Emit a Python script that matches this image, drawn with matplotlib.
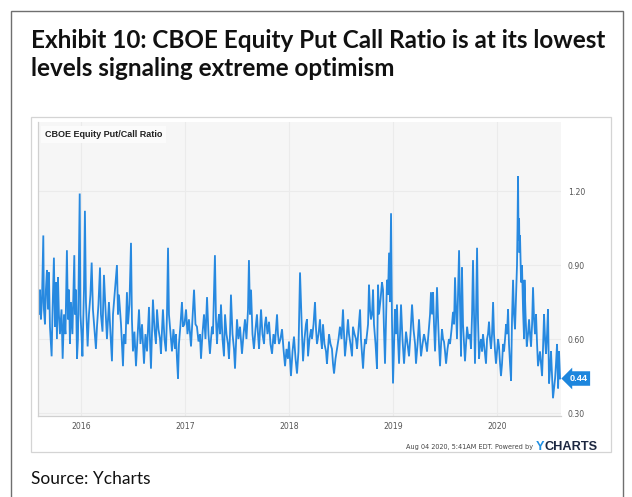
import matplotlib
matplotlib.use("Agg")
import matplotlib.pyplot as plt
import matplotlib.patches as mpatches
import matplotlib.transforms as mtransforms
import numpy as np

# CBOE equity put/call ratio, dates as decimal years
dates_2015 = [2015.593, 2015.601, 2015.606, 2015.615, 2015.625, 2015.638, 2015.644, 2015.654,
              2015.663, 2015.673, 2015.683, 2015.692, 2015.702, 2015.718, 2015.726, 2015.740,
              2015.750, 2015.760, 2015.769, 2015.779, 2015.788, 2015.798, 2015.813, 2015.824,
              2015.837, 2015.851, 2015.865, 2015.875, 2015.885, 2015.894, 2015.904, 2015.918,
              2015.936, 2015.942, 2015.952, 2015.962, 2015.971, 2015.988, 2015.995]
ratio_2015 = [0.78, 0.70, 0.80, 0.68, 0.75, 1.02, 0.72, 0.66,
              0.80, 0.88, 0.72, 0.87, 0.65, 0.53, 0.70, 0.93,
              0.65, 0.83, 0.60, 0.85, 0.70, 0.62, 0.72, 0.52,
              0.70, 0.62, 0.96, 0.68, 0.80, 0.58, 0.75, 0.62,
              0.94, 0.70, 0.80, 0.52, 0.60, 1.19, 0.70]

dates_2016 = [2016.005, 2016.014, 2016.029, 2016.038, 2016.048, 2016.064, 2016.077, 2016.091,
              2016.103, 2016.115, 2016.130, 2016.144, 2016.154, 2016.168, 2016.183, 2016.192,
              2016.207, 2016.221, 2016.236, 2016.250, 2016.260, 2016.269, 2016.284, 2016.298,
              2016.308, 2016.327, 2016.346, 2016.356, 2016.365, 2016.375, 2016.385, 2016.394,
              2016.404, 2016.413, 2016.428, 2016.442, 2016.452, 2016.466, 2016.481, 2016.490,
              2016.500, 2016.514, 2016.529, 2016.543, 2016.558, 2016.572, 2016.587, 2016.606,
              2016.620, 2016.635, 2016.654, 2016.663, 2016.673, 2016.683, 2016.692, 2016.707,
              2016.721, 2016.731, 2016.745, 2016.760, 2016.769, 2016.779, 2016.788, 2016.803,
              2016.817, 2016.827, 2016.837, 2016.846, 2016.861, 2016.875, 2016.889, 2016.904,
              2016.913, 2016.923, 2016.933, 2016.942, 2016.957, 2016.971, 2016.981, 2016.995]
ratio_2016 = [0.62, 0.53, 0.80, 1.12, 0.75, 0.57, 0.70, 0.78,
              0.91, 0.72, 0.64, 0.56, 0.65, 0.74, 0.89, 0.70,
              0.63, 0.86, 0.72, 0.60, 0.68, 0.75, 0.62, 0.51,
              0.70, 0.80, 0.90, 0.70, 0.78, 0.72, 0.66, 0.58,
              0.49, 0.62, 0.58, 0.79, 0.66, 0.74, 0.99, 0.68,
              0.55, 0.63, 0.49, 0.60, 0.72, 0.58, 0.66, 0.50,
              0.62, 0.55, 0.73, 0.60, 0.48, 0.62, 0.76, 0.64,
              0.58, 0.72, 0.64, 0.60, 0.54, 0.64, 0.72, 0.60,
              0.55, 0.70, 0.97, 0.70, 0.62, 0.55, 0.64, 0.56,
              0.62, 0.52, 0.44, 0.58, 0.66, 0.75, 0.65, 0.66]

dates_2017 = [2017.010, 2017.024, 2017.038, 2017.058, 2017.072, 2017.087, 2017.101, 2017.115,
              2017.130, 2017.144, 2017.154, 2017.168, 2017.183, 2017.197, 2017.212, 2017.226,
              2017.240, 2017.250, 2017.260, 2017.269, 2017.288, 2017.298, 2017.308, 2017.317,
              2017.327, 2017.337, 2017.346, 2017.361, 2017.375, 2017.385, 2017.399, 2017.413,
              2017.423, 2017.433, 2017.442, 2017.457, 2017.471, 2017.481, 2017.490, 2017.500,
              2017.514, 2017.529, 2017.538, 2017.548, 2017.563, 2017.577, 2017.591, 2017.606,
              2017.615, 2017.625, 2017.635, 2017.649, 2017.663, 2017.678, 2017.692, 2017.702,
              2017.712, 2017.721, 2017.731, 2017.745, 2017.760, 2017.769, 2017.779, 2017.793,
              2017.808, 2017.822, 2017.837, 2017.851, 2017.865, 2017.885, 2017.894, 2017.904,
              2017.918, 2017.933, 2017.947, 2017.962, 2017.976, 2017.990]
ratio_2017 = [0.72, 0.62, 0.68, 0.57, 0.68, 0.80, 0.66, 0.65,
              0.59, 0.62, 0.52, 0.62, 0.70, 0.60, 0.77, 0.62,
              0.54, 0.60, 0.65, 0.62, 0.94, 0.68, 0.58, 0.66,
              0.70, 0.62, 0.74, 0.60, 0.53, 0.70, 0.62, 0.58,
              0.52, 0.62, 0.78, 0.62, 0.56, 0.48, 0.58, 0.68,
              0.60, 0.65, 0.60, 0.54, 0.62, 0.68, 0.60, 0.72,
              0.92, 0.70, 0.80, 0.62, 0.56, 0.64, 0.70, 0.62,
              0.56, 0.64, 0.72, 0.62, 0.58, 0.66, 0.69, 0.62,
              0.67, 0.58, 0.54, 0.62, 0.58, 0.70, 0.62, 0.58,
              0.60, 0.64, 0.56, 0.49, 0.56, 0.52]

dates_2018 = [2018.000, 2018.010, 2018.019, 2018.034, 2018.048, 2018.063, 2018.077, 2018.091,
              2018.106, 2018.115, 2018.125, 2018.135, 2018.149, 2018.163, 2018.173, 2018.183,
              2018.197, 2018.212, 2018.221, 2018.236, 2018.250, 2018.260, 2018.269, 2018.284,
              2018.298, 2018.308, 2018.317, 2018.327, 2018.341, 2018.356, 2018.365, 2018.375,
              2018.385, 2018.399, 2018.413, 2018.423, 2018.433, 2018.447, 2018.462, 2018.476,
              2018.490, 2018.505, 2018.519, 2018.529, 2018.538, 2018.553, 2018.567, 2018.577,
              2018.591, 2018.606, 2018.615, 2018.630, 2018.644, 2018.654, 2018.668, 2018.683,
              2018.692, 2018.702, 2018.712, 2018.721, 2018.731, 2018.740, 2018.750, 2018.760,
              2018.769, 2018.779, 2018.788, 2018.798, 2018.808, 2018.817, 2018.832, 2018.846,
              2018.856, 2018.865, 2018.880, 2018.894, 2018.904, 2018.913, 2018.923, 2018.933,
              2018.942, 2018.952, 2018.962, 2018.971, 2018.981, 2018.990]
ratio_2018 = [0.59, 0.52, 0.45, 0.55, 0.61, 0.52, 0.46, 0.55,
              0.87, 0.75, 0.62, 0.51, 0.60, 0.66, 0.68, 0.53,
              0.60, 0.64, 0.60, 0.66, 0.75, 0.64, 0.58, 0.62,
              0.68, 0.60, 0.56, 0.66, 0.58, 0.55, 0.50, 0.56,
              0.62, 0.58, 0.56, 0.50, 0.46, 0.52, 0.56, 0.60,
              0.65, 0.60, 0.72, 0.62, 0.53, 0.60, 0.68, 0.62,
              0.58, 0.53, 0.65, 0.62, 0.60, 0.56, 0.64, 0.72,
              0.60, 0.54, 0.48, 0.55, 0.60, 0.58, 0.62, 0.66,
              0.82, 0.72, 0.68, 0.70, 0.80, 0.66, 0.58, 0.48,
              0.82, 0.70, 0.76, 0.83, 0.80, 0.64, 0.50, 0.68,
              0.84, 0.78, 0.95, 0.75, 1.11, 0.68]

dates_2019 = [2019.000, 2019.010, 2019.019, 2019.029, 2019.038, 2019.048, 2019.058, 2019.067,
              2019.077, 2019.091, 2019.106, 2019.115, 2019.125, 2019.139, 2019.154, 2019.168,
              2019.183, 2019.197, 2019.212, 2019.221, 2019.236, 2019.250, 2019.260, 2019.269,
              2019.284, 2019.298, 2019.308, 2019.317, 2019.327, 2019.341, 2019.356, 2019.365,
              2019.375, 2019.385, 2019.394, 2019.404, 2019.413, 2019.423, 2019.433, 2019.442,
              2019.452, 2019.462, 2019.471, 2019.481, 2019.490, 2019.500, 2019.510, 2019.524,
              2019.538, 2019.548, 2019.563, 2019.577, 2019.587, 2019.596, 2019.606, 2019.615,
              2019.625, 2019.635, 2019.644, 2019.654, 2019.663, 2019.673, 2019.683, 2019.692,
              2019.702, 2019.712, 2019.726, 2019.740, 2019.750, 2019.760, 2019.769, 2019.779,
              2019.788, 2019.798, 2019.808, 2019.817, 2019.827, 2019.837, 2019.846, 2019.856,
              2019.865, 2019.880, 2019.894, 2019.904, 2019.913, 2019.923, 2019.933, 2019.942,
              2019.952, 2019.962, 2019.971, 2019.981, 2019.990]
ratio_2019 = [0.42, 0.58, 0.72, 0.62, 0.74, 0.60, 0.50, 0.62,
              0.74, 0.60, 0.50, 0.56, 0.63, 0.58, 0.53, 0.62,
              0.74, 0.64, 0.58, 0.50, 0.58, 0.68, 0.60, 0.53,
              0.58, 0.62, 0.60, 0.58, 0.55, 0.62, 0.70, 0.79,
              0.70, 0.79, 0.66, 0.55, 0.66, 0.81, 0.68, 0.58,
              0.49, 0.58, 0.64, 0.60, 0.59, 0.55, 0.50, 0.56,
              0.60, 0.58, 0.64, 0.71, 0.66, 0.85, 0.72, 0.60,
              0.78, 0.96, 0.74, 0.53, 0.89, 0.66, 0.58, 0.51,
              0.58, 0.65, 0.60, 0.62, 0.56, 0.70, 0.92, 0.70,
              0.50, 0.70, 0.97, 0.68, 0.52, 0.58, 0.60, 0.55,
              0.62, 0.56, 0.50, 0.60, 0.62, 0.67, 0.60, 0.56,
              0.62, 0.75, 0.62, 0.55, 0.50]

dates_2020 = [2020.000, 2020.010, 2020.019, 2020.029, 2020.038, 2020.048, 2020.058, 2020.067,
              2020.077, 2020.087, 2020.096, 2020.106, 2020.115, 2020.125, 2020.135, 2020.144,
              2020.154, 2020.163, 2020.173, 2020.183, 2020.192, 2020.197, 2020.202, 2020.207,
              2020.212, 2020.216, 2020.221, 2020.231, 2020.240, 2020.250, 2020.260, 2020.264,
              2020.274, 2020.286, 2020.298, 2020.308, 2020.317, 2020.327, 2020.337, 2020.346,
              2020.356, 2020.365, 2020.375, 2020.385, 2020.394, 2020.404, 2020.413, 2020.423,
              2020.433, 2020.442, 2020.452, 2020.462, 2020.471, 2020.481, 2020.490, 2020.500,
              2020.510, 2020.519, 2020.529, 2020.538, 2020.548, 2020.558, 2020.567, 2020.577,
              2020.587, 2020.596, 2020.606]
ratio_2020 = [0.55, 0.60, 0.57, 0.50, 0.45, 0.50, 0.58, 0.55,
              0.60, 0.66, 0.62, 0.72, 0.58, 0.50, 0.43, 0.68,
              0.84, 0.70, 0.64, 0.78, 0.90, 1.05, 1.26, 1.00,
              1.09, 0.95, 1.02, 0.83, 0.90, 0.72, 0.60, 0.84,
              0.70, 0.57, 0.62, 0.68, 0.62, 0.57, 0.66, 0.81,
              0.68, 0.62, 0.70, 0.58, 0.49, 0.52, 0.55, 0.50,
              0.45, 0.56, 0.70, 0.60, 0.54, 0.62, 0.72, 0.42,
              0.48, 0.55, 0.45, 0.36, 0.40, 0.44, 0.50, 0.58,
              0.40, 0.55, 0.44]

year_ticks = [2016, 2017, 2018, 2019, 2020]
value_ticks = [0.30, 0.60, 0.90, 1.20]

title_text = ["Exhibit 10: CBOE Equity Put Call Ratio is at its lowest",
              "levels signaling extreme optimism"]
chart_name = "CBOE Equity Put/Call Ratio"
stamp_text = "Aug 04 2020, 5:41AM EDT. Powered by"
source_text = "Source: Ycharts"

dates = np.array(dates_2015 + dates_2016 + dates_2017 + dates_2018 + dates_2019 + dates_2020)
ratio = np.array(ratio_2015 + ratio_2016 + ratio_2017 + ratio_2018 + ratio_2019 + ratio_2020)

W, H = 632, 497
fig = plt.figure(figsize=(W / 100, H / 100), dpi=100)
fig.patch.set_facecolor("white")


def fx(px):
    return px / W


def fy(py):
    return 1 - py / H


# outer document frame
fig.patches.append(mpatches.Rectangle((fx(11), fy(500)), fx(612), fy(11) - fy(500),
                                      transform=fig.transFigure, fill=False,
                                      edgecolor="#6f6f6f", linewidth=1.0))
# chart card frame
fig.patches.append(mpatches.Rectangle((fx(31), fy(452)), fx(580), fy(117) - fy(452),
                                      transform=fig.transFigure, fill=False,
                                      edgecolor="#d4d4d4", linewidth=0.9))

# heading, sized to span the frame width
heading = fig.text(fx(31), fy(48), title_text[0], fontsize=17, fontweight="bold",
                   family="Lato", color="#111111", va="baseline")
fig.canvas.draw()
bb = heading.get_window_extent()
scale = (607 - 31) / bb.width
heading.set_fontsize(17 * scale)
fig.text(fx(31), fy(76), title_text[1], fontsize=17 * scale, fontweight="bold",
         family="Lato", color="#111111", va="baseline")

ax = fig.add_axes([fx(38), fy(416), fx(561 - 38), fy(122) - fy(416)])
ax.set_facecolor("#f6f6f6")
ax.plot(dates, ratio, color="#2789e0", linewidth=1.3, solid_joinstyle="miter")
ax.set_xlim(2015.587, 2020.615)
ax.set_ylim(0.288, 1.48)

ax.set_xticks(year_ticks)
ax.set_xticklabels([str(y) for y in year_ticks])
ax.set_yticks(value_ticks)
ax.set_yticklabels([f"{v:.2f}" for v in value_ticks])
ax.yaxis.tick_right()
ax.tick_params(axis="both", length=0, labelsize=5.6, colors="#555555", pad=4)
ax.tick_params(axis="y", pad=5)
ax.grid(True, color="#ebebeb", linewidth=0.8)
ax.set_axisbelow(True)
for side in ("top", "right"):
    ax.spines[side].set_visible(False)
for side in ("left", "bottom"):
    ax.spines[side].set_color("#d0d0d0")
    ax.spines[side].set_linewidth(0.9)

# chart name on its own light panel
ax.text(0.013, 0.972, chart_name, transform=ax.transAxes, fontsize=6.5,
        fontweight="bold", family="Liberation Sans", color="#222222",
        va="top", ha="left",
        bbox=dict(boxstyle="square,pad=0.45", facecolor="#fbfbfb", edgecolor="none"))

# latest-value tag
last = ratio[-1]
tag_tr = mtransforms.blended_transform_factory(ax.transAxes, ax.transData)
ax.text(1.016, last, f"{last:.2f}", transform=tag_tr, fontsize=6.6, fontweight="bold",
        color="white", va="center", ha="left", family="Liberation Sans",
        bbox=dict(boxstyle="larrow,pad=0.3", facecolor="#1d86dd", edgecolor="none"),
        clip_on=False)

# timestamp and logo
stamp = fig.text(fx(533), fy(449), stamp_text, fontsize=4.7, color="#444444",
                 ha="right", va="baseline", family="Liberation Sans Narrow")
logo_y = fig.text(fx(536), fy(450), "Y", fontsize=9.2, fontweight="bold", color="#1f8fe3",
                  ha="left", va="baseline", family="Liberation Sans")
fig.canvas.draw()
ybb = logo_y.get_window_extent()
fig.text((ybb.x1 + 0.3) / W, fy(450), "CHARTS", fontsize=9.2, fontweight="bold",
         color="#1c2740", ha="left", va="baseline", family="Liberation Sans")

fig.text(fx(31), fy(484), source_text, fontsize=12.5, family="Lato", color="#111111",
         va="baseline")

fig.savefig("out.png", dpi=100)
